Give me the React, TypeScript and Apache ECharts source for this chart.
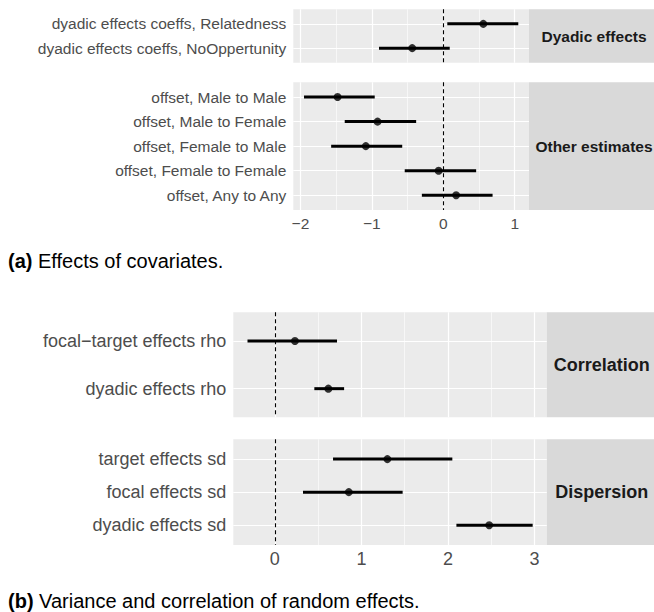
import React, { useEffect, useRef } from "react";
import * as echarts from "echarts";

// ---- Data ----
const dyadicCats = ["dyadic effects coeffs, Relatedness", "dyadic effects coeffs, NoOppertunity"];
const dyadicEst = [0.56, -0.435];
const dyadicLo = [0.056, -0.9];
const dyadicHi = [1.05, 0.09];

const otherCats = [
  "offset, Male to Male",
  "offset, Male to Female",
  "offset, Female to Male",
  "offset, Female to Female",
  "offset, Any to Any",
];
const otherEst = [-1.48, -0.92, -1.085, -0.065, 0.18];
const otherLo = [-1.95, -1.38, -1.57, -0.54, -0.3];
const otherHi = [-0.96, -0.38, -0.575, 0.46, 0.69];

const corrCats = ["focal\u2212target effects rho", "dyadic effects rho"];
const corrEst = [0.232, 0.618];
const corrLo = [-0.316, 0.456];
const corrHi = [0.718, 0.8];

const dispCats = ["target effects sd", "focal effects sd", "dyadic effects sd"];
const dispEst = [1.3, 0.854, 2.476];
const dispLo = [0.672, 0.325, 2.097];
const dispHi = [2.05, 1.476, 2.978];

const ticksA = [-2, -1, 0, 1];
const minorA = [-1.5, -0.5, 0.5];
const rangeA = [-2.1, 1.2];
const ticksB = [0, 1, 2, 3];
const minorB = [0.5, 1.5, 2.5];
const rangeB = [-0.48, 3.14];

const stripLabels = ["Dyadic effects", "Other estimates", "Correlation", "Dispersion"];
const captionA = ["(a)", "Effects of covariates."];
const captionB = ["(b)", "Variance and correlation of random effects."];

const FONT = "Liberation Sans, Arial, Helvetica, sans-serif";

type Facet = {
  cats: string[];
  est: number[];
  lo: number[];
  hi: number[];
  ticks: number[];
  minor: number[];
  range: number[];
  strip: string;
  showX: boolean;
  box: { left: number; top: number; width: number; height: number };
  stripBox: { left: number; width: number; cx: number };
  fontSize: number;
};

const facets: Facet[] = [
  {
    cats: dyadicCats, est: dyadicEst, lo: dyadicLo, hi: dyadicHi,
    ticks: ticksA, minor: minorA, range: rangeA, strip: stripLabels[0], showX: false,
    box: { left: 293.3, top: 9.3, width: 235.7, height: 53.4 },
    stripBox: { left: 529, width: 130, cx: 594 }, fontSize: 15.5,
  },
  {
    cats: otherCats, est: otherEst, lo: otherLo, hi: otherHi,
    ticks: ticksA, minor: minorA, range: rangeA, strip: stripLabels[1], showX: true,
    box: { left: 293.3, top: 82.3, width: 235.7, height: 127.7 },
    stripBox: { left: 529, width: 130, cx: 594 }, fontSize: 15.5,
  },
  {
    cats: corrCats, est: corrEst, lo: corrLo, hi: corrHi,
    ticks: ticksB, minor: minorB, range: rangeB, strip: stripLabels[2], showX: false,
    box: { left: 233.3, top: 312.3, width: 313.4, height: 105 },
    stripBox: { left: 546.7, width: 112, cx: 601.7 }, fontSize: 18,
  },
  {
    cats: dispCats, est: dispEst, lo: dispLo, hi: dispHi,
    ticks: ticksB, minor: minorB, range: rangeB, strip: stripLabels[3], showX: true,
    box: { left: 233.3, top: 439.3, width: 313.4, height: 105.7 },
    stripBox: { left: 546.7, width: 112, cx: 601.7 }, fontSize: 18,
  },
];

const fmtMinus = (v: number) => (v < 0 ? "\u2212" + Math.abs(v) : String(v));

function buildOption() {
  const grid: any[] = [];
  const xAxis: any[] = [];
  const yAxis: any[] = [];
  const series: any[] = [];
  const graphic: any[] = [];

  facets.forEach((f, i) => {
    const idx = f.cats.map((_, k) => k);
    grid.push({
      left: f.box.left, top: f.box.top, width: f.box.width, height: f.box.height,
      show: true, backgroundColor: "#EBEBEB", borderWidth: 0, containLabel: false,
    });
    xAxis.push({
      type: "value", gridIndex: i, min: f.range[0], max: f.range[1],
      axisLine: { show: false },
      axisTick: { show: f.showX, length: 4, customValues: f.ticks, lineStyle: { color: "#333333", width: 1 } },
      axisLabel: {
        show: f.showX, customValues: f.ticks, formatter: fmtMinus,
        color: "#4D4D4D", fontSize: f.fontSize, fontFamily: FONT, margin: 5,
      },
      splitLine: { show: false },
    });
    yAxis.push({
      type: "value", gridIndex: i, min: -0.6, max: f.cats.length - 0.4, inverse: true,
      axisLine: { show: false },
      axisTick: { show: true, length: 4, customValues: idx, lineStyle: { color: "#333333", width: 1 } },
      axisLabel: {
        show: true, customValues: idx, formatter: (v: number) => f.cats[Math.round(v)],
        color: "#4D4D4D", fontSize: f.fontSize, fontFamily: FONT, margin: 7,
      },
      splitLine: { show: false },
    });

    const lines: any[] = [];
    f.minor.forEach((v) => lines.push({ xAxis: v, lineStyle: { color: "#FFFFFF", width: 0.6, type: "solid" } }));
    f.ticks.forEach((v) => lines.push({ xAxis: v, lineStyle: { color: "#FFFFFF", width: 1.2, type: "solid" } }));
    idx.forEach((k) => lines.push({ yAxis: k, lineStyle: { color: "#FFFFFF", width: 1.2, type: "solid" } }));
    lines.push({ xAxis: 0, lineStyle: { color: "#000000", width: 1.1, type: [4, 3] } });

    series.push({
      type: "line", xAxisIndex: i, yAxisIndex: i, data: [], z: 1, silent: true,
      markLine: {
        z: 1, silent: true, symbol: ["none", "none"], label: { show: false },
        emphasis: { disabled: true }, animation: false, data: lines,
      },
    });
    series.push({
      type: "custom", xAxisIndex: i, yAxisIndex: i, z: 6, silent: true,
      data: f.cats.map((_, k) => [f.lo[k], f.hi[k], k]),
      encode: { x: [0, 1], y: 2 },
      renderItem: (params: any, api: any) => {
        const y = api.value(2);
        const p1 = api.coord([api.value(0), y]);
        const p2 = api.coord([api.value(1), y]);
        return {
          type: "line",
          shape: { x1: p1[0], y1: p1[1], x2: p2[0], y2: p2[1] },
          style: { stroke: "#000000", lineWidth: 3 },
        };
      },
    });
    series.push({
      type: "scatter", xAxisIndex: i, yAxisIndex: i, z: 7, silent: true,
      symbol: "circle", symbolSize: 8,
      itemStyle: { color: "#000000" },
      data: f.cats.map((_, k) => [f.est[k], k]),
    });

    graphic.push({
      type: "rect", silent: true,
      shape: { x: f.stripBox.left, y: f.box.top, width: f.stripBox.width, height: f.box.height },
      style: { fill: "#D9D9D9" },
    });
    graphic.push({
      type: "text", silent: true,
      x: f.stripBox.cx, y: f.box.top + f.box.height / 2,
      style: {
        text: f.strip, fill: "#1A1A1A", fontSize: f.fontSize, fontWeight: "bold", fontFamily: FONT,
        align: "center", verticalAlign: "middle",
      },
    });
  });

  [
    { cap: captionA, y: 260.8 },
    { cap: captionB, y: 600.8 },
  ].forEach(({ cap, y }) => {
    graphic.push({
      type: "text", silent: true, x: 8, y,
      style: {
        text: "{b|" + cap[0] + "} " + cap[1],
        fill: "#000000", fontSize: 20, fontFamily: FONT, verticalAlign: "middle", align: "left",
        rich: { b: { fontWeight: "bold", fontSize: 20, fontFamily: FONT, fill: "#000000" } },
      },
    });
  });

  return {
    animation: false,
    backgroundColor: "#FFFFFF",
    grid, xAxis, yAxis, series, graphic,
  };
}

export default function App() {
  const ref = useRef<HTMLDivElement>(null);
  useEffect(() => {
    if (!ref.current) return;
    const chart = echarts.init(ref.current, undefined, { renderer: "svg" });
    chart.setOption(buildOption() as any);
    return () => chart.dispose();
  }, []);
  return (
    <div
      ref={ref}
      style={{ position: "fixed", left: 0, top: 0, width: 654, height: 612, background: "#fff" }}
    />
  );
}
